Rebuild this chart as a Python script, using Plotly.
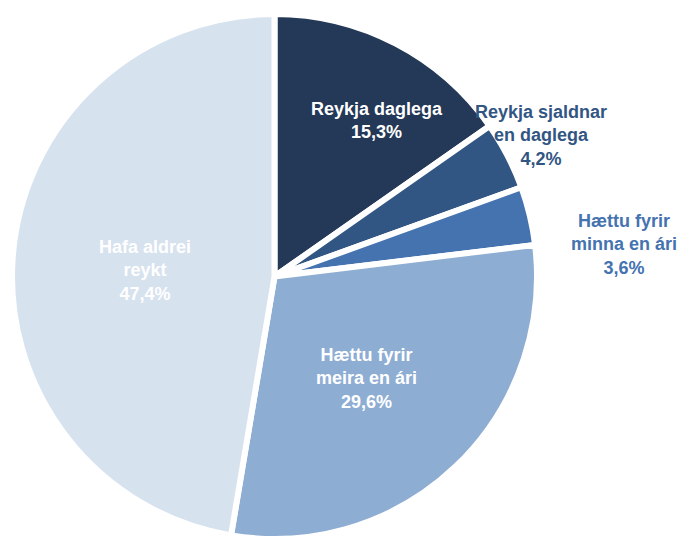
import math
import plotly.graph_objects as go

labels = ["Reykja daglega", "Reykja sjaldnar en daglega", "Hættu fyrir minna en ári",
          "Hættu fyrir meira en ári", "Hafa aldrei reykt"]
label_lines = ["Reykja daglega", "Reykja sjaldnar<br>en daglega", "Hættu fyrir<br>minna en ári",
               "Hættu fyrir<br>meira en ári", "Hafa aldrei<br>reykt"]
values = [15.3, 4.2, 3.6, 29.6, 47.4]
colors = ["#243858", "#325683", "#4473B0", "#8EADD3", "#D7E2EF"]
label_colors = ["white", "#325683", "#4473B0", "white", "white"]

FONT = "Liberation Sans Narrow, Arial Narrow, Liberation Sans, Arial, sans-serif"
FS = 18
W, H = 683, 539

texts = [f"<b>{l}<br>{str(v).replace('.', ',')}%</b>" for l, v in zip(label_lines, values)]

# pie geometry (domain in paper units)
dom_x = [12 / W, 537 / W]
dom_y = [0, 0.974]
cx_px = (dom_x[0] + dom_x[1]) / 2 * W
cy_px = H - (dom_y[0] + dom_y[1]) / 2 * H
R_px = min((dom_x[1] - dom_x[0]) * W, (dom_y[1] - dom_y[0]) * H) / 2

fig = go.Figure(go.Pie(
    labels=labels,
    values=values,
    textinfo="none",
    marker=dict(colors=colors, line=dict(color="white", width=6)),
    sort=False,
    direction="clockwise",
    rotation=0,
    domain=dict(x=dom_x, y=dom_y),
    showlegend=False,
    hoverinfo="label+percent",
))

# data labels, positioned from each slice's mid-angle
# (radial factor relative to radius, angle tweak in degrees)
label_style = [(0.711, 5.9), (1.148, -0.4), (1.336, 8.1), (0.522, 1.5), (0.494, -2.1)]
total = sum(values)
cum = 0
for i, v in enumerate(values):
    mid = (cum + v / 2) / total * 360
    cum += v
    k, tweak = label_style[i]
    a = math.radians(mid + tweak)
    px = cx_px + R_px * k * math.sin(a)
    py = cy_px - R_px * k * math.cos(a)
    fig.add_annotation(
        x=px / W, y=1 - py / H, xref="paper", yref="paper",
        text=texts[i], showarrow=False, xanchor="center", yanchor="middle",
        font=dict(family=FONT, size=FS, color=label_colors[i]),
    )

fig.update_layout(
    width=W, height=H,
    margin=dict(l=0, r=0, t=0, b=0),
    paper_bgcolor="white",
    plot_bgcolor="white",
    font=dict(family=FONT),
)

fig.write_html("out.html", config={"displayModeBar": False},
               post_script="document.body.style.margin='0';")
